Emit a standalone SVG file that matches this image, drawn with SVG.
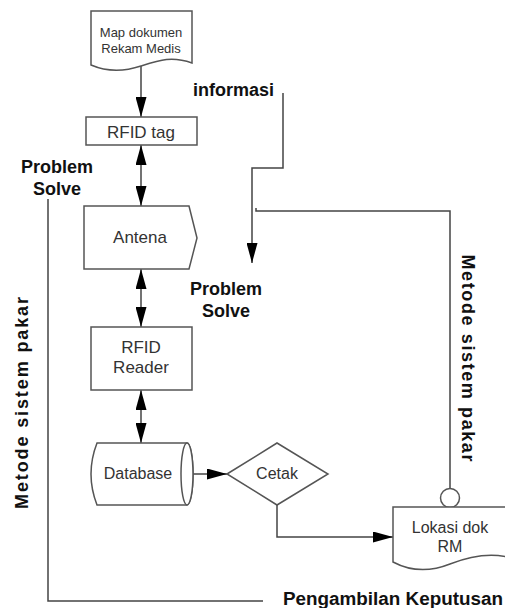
<svg xmlns="http://www.w3.org/2000/svg" width="505" height="608" viewBox="0 0 505 608">
<style>
.shape{fill:#fff;stroke:#555;stroke-width:1.5}
.lbl{font-family:"Liberation Sans",Arial,sans-serif;font-size:16px;fill:#333;text-anchor:middle}
.big{font-size:17px}
.small{font-size:13px}
.bold{font-family:"Liberation Sans",Arial,sans-serif;font-size:18px;font-weight:bold;fill:#111}
.conn{fill:none;stroke:#444;stroke-width:1.5}
.arr{marker-end:url(#ah)}
.dbl{marker-start:url(#ah);marker-end:url(#ah)}
</style>
<defs>
<marker id="ah" viewBox="0 0 20 11" refX="20" refY="5.5" markerWidth="20" markerHeight="11" markerUnits="userSpaceOnUse" orient="auto-start-reverse">
<path d="M0,0 L20,5.5 L0,11 Z" fill="#000"/>
</marker>
</defs>
<rect width="505" height="608" fill="#fff"/>

<g id="connectors">
<line class="conn arr" x1="141" y1="66" x2="141" y2="117"/>
<line class="conn dbl" x1="141" y1="145" x2="141" y2="206"/>
<line class="conn dbl" x1="141" y1="269" x2="141" y2="327"/>
<line class="conn dbl" x1="141" y1="390" x2="141" y2="443"/>
<line class="conn arr" x1="192" y1="474" x2="227" y2="474"/>
<polyline class="conn arr" points="277,505 277,537 393,537"/>
<polyline class="conn arr" points="283,93 283,168 252,168 252,263"/>
<polyline class="conn" points="256,208 256,211 450,211 450,488"/>
<polyline class="conn" stroke="#222" points="48,199 48,601 263,601"/>
</g>

<g id="map-dokumen">
<path class="shape" d="M91,11 H192 V63 C172,56 160,60 141,66 C120,73 105,71 91,65 Z"/>
<text class="lbl small" x="141" y="37">Map dokumen</text>
<text class="lbl small" x="141" y="53">Rekam Medis</text>
</g>

<g id="rfid-tag">
<rect class="shape" x="86" y="117" width="111" height="28"/>
<text class="lbl big" x="141" y="138">RFID tag</text>
</g>

<g id="antena">
<path class="shape" d="M84,206 H189 L197,238 L189,269 H84 Z"/>
<text class="lbl big" x="140" y="243">Antena</text>
</g>

<g id="rfid-reader">
<rect class="shape" x="91" y="327" width="101" height="63"/>
<text class="lbl big" x="141" y="353">RFID</text>
<text class="lbl big" x="141" y="373">Reader</text>
</g>

<g id="database">
<path class="shape" d="M97,443 H187 A6,31 0 0 1 187,505 H97 Q85,474 97,443 Z"/>
<ellipse class="shape" cx="187" cy="474" rx="6" ry="31"/>
<text class="lbl" x="138" y="479">Database</text>
</g>

<g id="cetak">
<polygon class="shape" points="227,474 277,443 328,474 277,505"/>
<text class="lbl" x="277" y="479">Cetak</text>
</g>

<g id="lokasi">
<circle class="shape" cx="450" cy="498" r="9.5"/>
<path class="shape" d="M393,507 H508 V557 C490,553 470,556 450,564 C430,572 410,571 393,562 Z"/>
<text class="lbl" x="450" y="533">Lokasi dok</text>
<text class="lbl" x="450" y="552">RM</text>
</g>

<g id="labels">
<text class="bold" x="193" y="96">informasi</text>
<text class="bold" x="57" y="173" text-anchor="middle">Problem</text>
<text class="bold" x="57" y="195" text-anchor="middle">Solve</text>
<text class="bold" x="226" y="295" text-anchor="middle">Problem</text>
<text class="bold" x="226" y="317" text-anchor="middle">Solve</text>
<text class="bold" x="283" y="605" textLength="220" lengthAdjust="spacingAndGlyphs">Pengambilan Keputusan</text>
<text class="bold" transform="translate(28,403) rotate(-90)" text-anchor="middle" textLength="212" lengthAdjust="spacing">Metode sistem pakar</text>
<text class="bold" transform="translate(462,358) rotate(90)" text-anchor="middle" textLength="207" lengthAdjust="spacing">Metode sistem pakar</text>
</g>
</svg>
